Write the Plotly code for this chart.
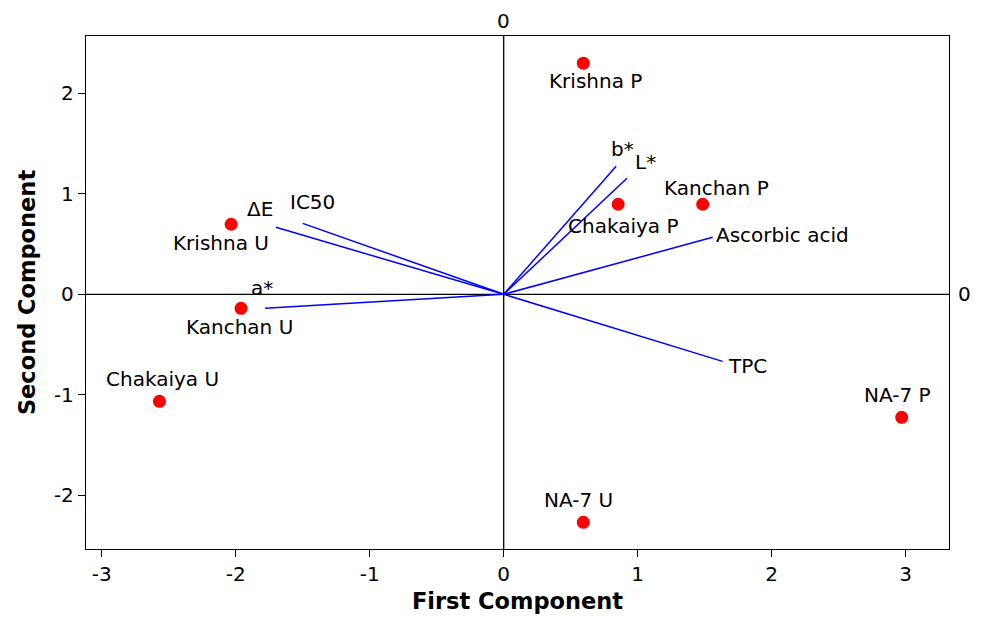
import plotly.graph_objects as go

# Scores (observations)
obs_names = ["Krishna P", "Kanchan P", "Chakaiya P", "Krishna U", "Kanchan U",
             "Chakaiya U", "NA-7 U", "NA-7 P"]
obs_x = [0.594, 1.485, 0.854, -2.034, -1.96, -2.569, 0.594, 2.97]
obs_y = [2.30, 0.896, 0.896, 0.697, -0.139, -1.065, -2.269, -1.224]
# label offsets in pixels (dx, dy)
obs_dx = [12, 14, 5, -10, -2, 3, -5, -4]
obs_dy = [-18, 16, -22, -19, -19, 22, 22, 22]

# Loadings (variables)
var_names = ["b*", "L*", "Ascorbic acid", "TPC", "IC50", "ΔE", "a*"]
var_x = [0.839, 0.92, 1.559, 1.633, -1.50, -1.70, -1.78]
var_y = [1.274, 1.154, 0.567, -0.667, 0.706, 0.667, -0.139]
var_dx = [6, 19, 1, 3, 10, -16, -3]
var_dy = [17, 16, 2, -5, 21, 18, 20]
var_anchor = ["center", "center", "left", "left", "center", "center", "center"]

x_ticks = [-3, -2, -1, 0, 1, 2, 3]
x_ticktext = ["-3", "-2", "-1", "0", "1", "2", "3"]
y_ticks = [-2, -1, 0, 1, 2]
y_ticktext = ["-2", "-1", "0", "1", "2"]

FONT = "DejaVu Sans"
FS = 20
fig = go.Figure()

# reference lines
fig.add_shape(type="line", x0=0, x1=0, y0=0, y1=1, xref="x", yref="paper",
              line=dict(color="black", width=1.3), layer="below")
fig.add_shape(type="line", x0=0, x1=1, y0=0, y1=0, xref="paper", yref="y",
              line=dict(color="black", width=1.3), layer="below")

for n, vx, vy in zip(var_names, var_x, var_y):
    fig.add_trace(go.Scatter(x=[0, vx], y=[0, vy], mode="lines",
                             line=dict(color="#0000ff", width=1.5),
                             showlegend=False, hoverinfo="skip"))

fig.add_trace(go.Scatter(x=obs_x, y=obs_y, mode="markers",
                         marker=dict(color="#ff0000", size=13),
                         showlegend=False, text=obs_names))

for n, px, py, dx, dy in zip(obs_names, obs_x, obs_y, obs_dx, obs_dy):
    fig.add_annotation(x=px, y=py, text=n, showarrow=False, xshift=dx, yshift=dy,
                       font=dict(family=FONT, size=FS, color="black"))

for n, px, py, dx, dy, a in zip(var_names, var_x, var_y, var_dx, var_dy, var_anchor):
    fig.add_annotation(x=px, y=py, text=n, showarrow=False, xshift=dx, yshift=dy,
                       xanchor=a, font=dict(family=FONT, size=FS, color="black"))

# labels for the reference lines
fig.add_annotation(x=0, y=1, xref="x", yref="paper", text="0", showarrow=False,
                   yanchor="bottom", yshift=1, font=dict(family=FONT, size=FS, color="black"))
fig.add_annotation(x=1, y=0, xref="paper", yref="y", text="0", showarrow=False,
                   xanchor="left", xshift=7, font=dict(family=FONT, size=FS, color="black"))

fig.update_layout(
    width=981, height=617,
    margin=dict(l=86, r=32, t=36, b=68),
    plot_bgcolor="white", paper_bgcolor="white",
    font=dict(family=FONT, size=FS, color="black"),
    xaxis=dict(range=[-3.117, 3.323], tickvals=x_ticks, ticktext=x_ticktext,
               ticks="outside", ticklen=7, tickcolor="black", tickfont=dict(size=FS),
               showgrid=False, zeroline=False, showline=True, automargin=False,
               mirror=True, linecolor="black", linewidth=1.3,
               title=dict(text="<b>First Component</b>", font=dict(size=22.5), standoff=8)),
    yaxis=dict(range=[-2.534, 2.570], tickvals=y_ticks, ticktext=y_ticktext,
               ticks="outside", ticklen=7, tickcolor="black", tickfont=dict(size=FS),
               showgrid=False, zeroline=False, showline=True, automargin=False,
               mirror=True, linecolor="black", linewidth=1.3,
               title=dict(text="<b>Second Component</b>", font=dict(size=22.5), standoff=12)),
)

fig.write_html("out.html")
